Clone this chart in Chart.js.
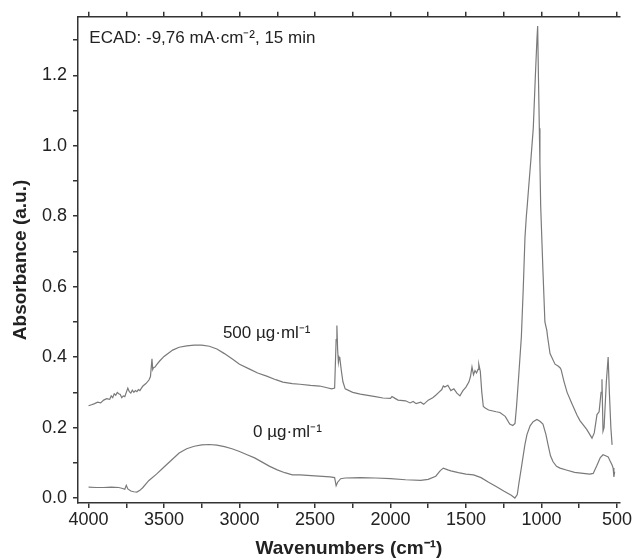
<!doctype html>
<html lang="en">

<head>
    <meta charset="utf-8">
    <title>ECAD spectra</title>
    <script src="https://cdn.jsdelivr.net/npm/chart.js"></script>
    <style>
        body { margin: 0; background: #fff; }
        #wrap { width: 633px; height: 560px; position: relative; }
    </style>
    <script>
        // 500 ug/ml spectrum
        const wn500 = [4000, 3980, 3960, 3940, 3920, 3900, 3880, 3860, 3850, 3840, 3830, 3820, 3810, 3800, 3790, 3780, 3770, 3760,
            3750, 3740, 3730, 3720, 3710, 3700, 3690, 3680, 3670, 3660, 3650, 3640, 3620, 3600, 3590, 3580, 3575, 3570, 3560, 3550,
            3529, 3500, 3443, 3400, 3350, 3300, 3250, 3200, 3150, 3100, 3045, 3000, 2933, 2880, 2820, 2760, 2713, 2650, 2600, 2530,
            2468, 2420, 2390, 2370, 2360, 2355, 2350, 2345, 2340, 2335, 2325, 2315, 2300, 2250, 2200, 2100, 2050, 2000, 1990, 1970,
            1950, 1900, 1870, 1850, 1830, 1800, 1780, 1750, 1720, 1700, 1680, 1660, 1650, 1640, 1620, 1600, 1580, 1560, 1540, 1520,
            1500, 1480, 1470, 1460, 1450, 1440, 1430, 1420, 1415, 1405, 1395, 1385, 1370, 1350, 1300, 1275, 1240, 1210, 1190, 1175,
            1165, 1150, 1133, 1120, 1109, 1100, 1094, 1085, 1070, 1054, 1040, 1030, 1025, 1020, 1014, 1010, 1005, 990,
            977, 964, 960, 943, 910, 890, 877, 870, 850, 830, 800, 764, 745, 700, 665, 650, 632, 618, 605, 599, 592, 585, 570, 558,
            550, 540, 532];
        const abs500 = [0.262, 0.265, 0.268, 0.272, 0.270, 0.278, 0.282, 0.280, 0.290, 0.285, 0.296, 0.292, 0.300, 0.296, 0.294, 0.285, 0.290, 0.288,
            0.300, 0.312, 0.302, 0.298, 0.306, 0.300, 0.305, 0.302, 0.308, 0.305, 0.312, 0.318, 0.325, 0.335, 0.345, 0.395, 0.365, 0.370, 0.372, 0.378,
            0.389, 0.402, 0.420, 0.428, 0.432, 0.434, 0.434, 0.431, 0.423, 0.410, 0.394, 0.380, 0.366, 0.355, 0.346, 0.336, 0.329, 0.325, 0.323, 0.320,
            0.318, 0.313, 0.310, 0.312, 0.450, 0.490, 0.420, 0.385, 0.400, 0.395, 0.360, 0.330, 0.310, 0.300, 0.295, 0.288, 0.284, 0.283, 0.288, 0.283,
            0.278, 0.276, 0.270, 0.274, 0.268, 0.272, 0.266, 0.278, 0.285, 0.292, 0.300, 0.308, 0.318, 0.315, 0.320, 0.305, 0.310, 0.298, 0.290, 0.305,
            0.315, 0.330, 0.345, 0.372, 0.350, 0.362, 0.355, 0.365, 0.380, 0.360, 0.300, 0.260, 0.255, 0.250, 0.245, 0.243, 0.232, 0.210, 0.206, 0.212,
            0.260, 0.350, 0.457, 0.600, 0.740, 0.800, 0.830, 0.880, 0.960, 1.050, 1.200, 1.300, 1.340, 1.200, 1.050, 0.950, 0.830, 0.646,
            0.500, 0.475, 0.460, 0.410, 0.380, 0.375, 0.370, 0.365, 0.330, 0.300, 0.270, 0.235, 0.220, 0.195, 0.170, 0.185, 0.237, 0.245, 0.300, 0.337, 0.190, 0.200, 0.330, 0.400,
            0.300, 0.200, 0.151];

        // 0 ug/ml spectrum
        const wn0 = [4000, 3950, 3900, 3850, 3800, 3780, 3760, 3750, 3740, 3720, 3700, 3680, 3660, 3640, 3620, 3600, 3550, 3500, 3450, 3400,
            3350, 3300, 3250, 3200, 3150, 3100, 3050, 3000, 2950, 2900, 2850, 2800, 2750, 2700, 2650, 2600, 2500, 2400, 2370, 2360,
            2350, 2330, 2300, 2200, 2100, 2000, 1900, 1800, 1750, 1700, 1670, 1650, 1620, 1600, 1550, 1500, 1450, 1400, 1350, 1300,
            1250, 1200, 1176, 1160, 1150, 1130, 1110, 1096, 1075, 1055, 1030, 1010, 990, 970, 956, 940, 923, 900, 877, 830, 780, 724,
            680, 657, 632, 610, 592, 575, 558, 545, 532, 525, 520, 515];
        const abs0 = [0.031, 0.030, 0.030, 0.031, 0.030, 0.028, 0.025, 0.036, 0.026, 0.020, 0.018, 0.017, 0.022, 0.030, 0.040, 0.050, 0.068, 0.088, 0.108, 0.128,
            0.140, 0.147, 0.151, 0.152, 0.150, 0.146, 0.140, 0.132, 0.123, 0.114, 0.102, 0.090, 0.080, 0.072, 0.066, 0.066, 0.063, 0.060, 0.058, 0.035,
            0.045, 0.055, 0.057, 0.058, 0.057, 0.055, 0.052, 0.050, 0.053, 0.062, 0.078, 0.085, 0.080, 0.077, 0.072, 0.068, 0.066, 0.058, 0.045, 0.033,
            0.020, 0.008, 0.000, 0.010, 0.040, 0.094, 0.150, 0.180, 0.205, 0.217, 0.223, 0.218, 0.210, 0.180, 0.151, 0.120, 0.103, 0.090, 0.085, 0.079, 0.073, 0.070,
            0.068, 0.070, 0.093, 0.115, 0.123, 0.120, 0.117, 0.105, 0.094, 0.085, 0.060, 0.075];

        const xTicks = [4000, 3750, 3500, 3250, 3000, 2750, 2500, 2250, 2000, 1750, 1500, 1250, 1000, 750, 500];
        const yTicks = [0, 0.1, 0.2, 0.3, 0.4, 0.5, 0.6, 0.7, 0.8, 0.9, 1.0, 1.1, 1.2, 1.3];
    </script>
</head>

<body>
    <div id="wrap"><canvas id="spectra"></canvas></div>
    <script>
        const FONT = "'Liberation Sans', Arial, sans-serif";
        const AXIS = '#333';

        function toPoints(xs, ys) {
            let pts = [];
            for (let i = 0; i < xs.length; i++) {
                pts.push({ x: xs[i], y: ys[i] });
            }
            return pts;
        }

        function setTicks(list) {
            return function (scale) {
                scale.ticks = list.map(v => ({ value: v }));
            };
        }

        const gridOpts = { drawOnChartArea: false, drawTicks: true, tickLength: 5, color: AXIS, lineWidth: 1.5 };
        const borderOpts = { display: true, color: AXIS, width: 1.5 };

        // text labels inside the plot
        const labelsPlugin = {
            id: 'labels',
            afterDatasetsDraw(chart) {
                const ctx = chart.ctx;
                const x = chart.scales.x;
                const y = chart.scales.y;
                ctx.save();
                ctx.fillStyle = '#222';
                ctx.textBaseline = 'middle';
                ctx.textAlign = 'left';
                ctx.font = '17px ' + FONT;
                ctx.fillText('ECAD: -9,76 mA·cm⁻², 15 min', x.getPixelForValue(3995), y.getPixelForValue(1.305));
                ctx.fillText('500 µg·ml⁻¹', x.getPixelForValue(3110), y.getPixelForValue(0.467));
                ctx.fillText('0 µg·ml⁻¹', x.getPixelForValue(2910), y.getPixelForValue(0.188));
                ctx.restore();
            }
        };

        new Chart(document.getElementById('spectra'), {
            type: 'line',
            data: {
                datasets: [{
                    label: '500 µg·ml⁻¹',
                    data: toPoints(wn500, abs500),
                    borderColor: '#7a7a7a',
                    borderWidth: 1.2,
                    pointRadius: 0,
                    tension: 0
                }, {
                    label: '0 µg·ml⁻¹',
                    data: toPoints(wn0, abs0),
                    borderColor: '#7a7a7a',
                    borderWidth: 1.2,
                    pointRadius: 0,
                    tension: 0
                }]
            },
            options: {
                responsive: true,
                maintainAspectRatio: false,
                animation: false,
                layout: { padding: { right: 13 } },
                plugins: {
                    legend: { display: false },
                    tooltip: { enabled: false }
                },
                scales: {
                    x: {
                        type: 'linear',
                        position: 'bottom',
                        reverse: true,
                        min: 480,
                        max: 4070,
                        afterBuildTicks: setTicks(xTicks),
                        afterFit: (s) => { s.height = 57; },
                        grid: gridOpts,
                        border: borderOpts,
                        ticks: {
                            autoSkip: false,
                            maxRotation: 0,
                            padding: 1,
                            color: '#222',
                            font: { family: FONT, size: 18 },
                            callback: (v) => (v % 500 === 0 ? String(v) : '')
                        },
                        title: {
                            display: true,
                            text: 'Wavenumbers (cm⁻¹)',
                            color: '#222',
                            font: { family: FONT, size: 19, weight: 'bold' },
                            padding: { top: 0, bottom: 0 }
                        }
                    },
                    xTop: {
                        type: 'linear',
                        position: 'top',
                        reverse: true,
                        min: 480,
                        max: 4070,
                        afterBuildTicks: setTicks(xTicks),
                        afterFit: (s) => { s.height = 15; },
                        grid: gridOpts,
                        border: borderOpts,
                        ticks: { display: false }
                    },
                    y: {
                        type: 'linear',
                        position: 'left',
                        min: -0.014,
                        max: 1.366,
                        afterBuildTicks: setTicks(yTicks),
                        afterFit: (s) => { s.width = 78; },
                        grid: gridOpts,
                        border: borderOpts,
                        ticks: {
                            autoSkip: false,
                            padding: 6,
                            color: '#222',
                            font: { family: FONT, size: 18 },
                            callback: (v) => (Math.round(v * 10) % 2 === 0 ? v.toFixed(1) : '')
                        },
                        title: {
                            display: true,
                            text: 'Absorbance (a.u.)',
                            color: '#222',
                            font: { family: FONT, size: 19, weight: 'bold' },
                            padding: { top: 9, bottom: 0 }
                        }
                    }
                }
            },
            plugins: [labelsPlugin]
        });
    </script>
</body>

</html>
